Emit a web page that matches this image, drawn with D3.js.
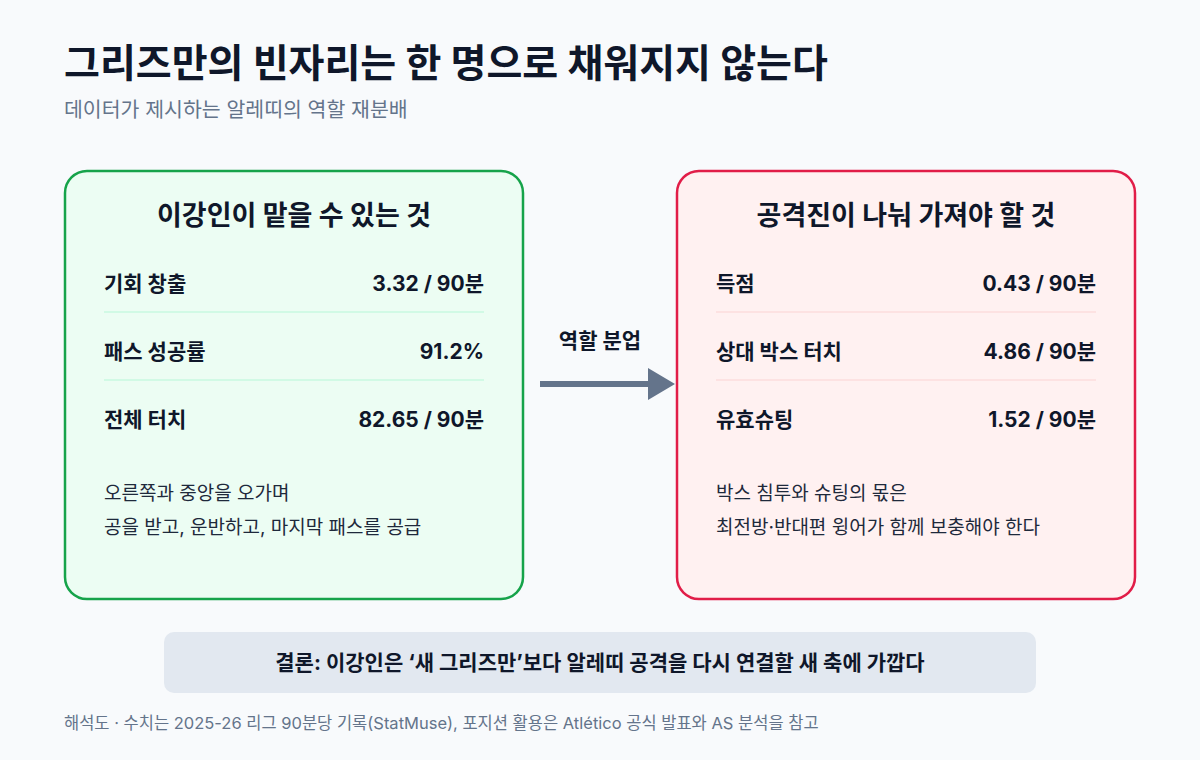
<!DOCTYPE html><html><head><meta charset="utf-8"><script src="https://cdn.jsdelivr.net/npm/d3@7"></script>
<style>body{margin:0;background:#f8fafc}svg{display:block;font-family:Inter,"Noto Sans CJK KR","Noto Sans",sans-serif}</style></head><body>
<script>
const title="그리즈만의 빈자리는 한 명으로 채워지지 않는다";
const subtitle="데이터가 제시하는 알레띠의 역할 재분배";
const panelTitles=["이강인이 맡을 수 있는 것","공격진이 나눠 가져야 할 것"];
const leftLabels=["기회 창출","패스 성공률","전체 터치"];
const leftValues=["3.32 / 90분","91.2%","82.65 / 90분"];
const rightLabels=["득점","상대 박스 터치","유효슈팅"];
const rightValues=["0.43 / 90분","4.86 / 90분","1.52 / 90분"];
const leftNotes=["오른쪽과 중앙을 오가며","공을 받고, 운반하고, 마지막 패스를 공급"];
const rightNotes=["박스 침투와 슈팅의 몫은","최전방·반대편 윙어가 함께 보충해야 한다"];
const arrowLabel="역할 분업";
const conclusion="결론: 이강인은 ‘새 그리즈만’보다 알레띠 공격을 다시 연결할 새 축에 가깝다";
const footer="해석도 · 수치는 2025-26 리그 90분당 기록(StatMuse), 포지션 활용은 Atlético 공식 발표와 AS 분석을 참고";

const svg=d3.select("body").append("svg").attr("width",1200).attr("height",760);
svg.append("rect").attr("width",1200).attr("height",760).attr("fill","#f8fafc");
svg.append("text").attr("x",64).attr("y",77).attr("font-size",39).attr("font-weight",700).attr("fill","#0f172a").text(title);
svg.append("text").attr("x",64).attr("y",117).attr("font-size",20.5).attr("fill","#64748b").text(subtitle);

const panels=[
 {x:64,stroke:"#16a34a",fill:"#ecfdf3",sep:"#d1fae5",labels:leftLabels,values:leftValues,notes:leftNotes,t:panelTitles[0]},
 {x:676,stroke:"#e11d48",fill:"#fff1f1",sep:"#fde2e2",labels:rightLabels,values:rightValues,notes:rightNotes,t:panelTitles[1]}];
const rowY=d3.scalePoint().domain([0,1,2]).range([284,420]);
panels.forEach(p=>{
 const g=svg.append("g").attr("transform",`translate(${p.x},170)`);
 g.append("rect").attr("x",1).attr("y",1).attr("width",458).attr("height",428).attr("rx",22).attr("fill",p.fill).attr("stroke",p.stroke).attr("stroke-width",2.5);
 g.append("text").attr("x",230).attr("y",55).attr("text-anchor","middle").attr("font-size",27).attr("font-weight",700).attr("fill","#0f172a").text(p.t);
 p.labels.forEach((l,i)=>{
  const y=rowY(i)-170;
  g.append("text").attr("x",40).attr("y",y+7).attr("font-size",21).attr("font-weight",700).attr("fill","#0f172a").text(l);
  g.append("text").attr("x",420).attr("y",y+7).attr("text-anchor","end").attr("font-size",21).attr("font-weight",700).attr("fill","#0f172a").text(p.values[i]);
  if(i<2) g.append("line").attr("x1",40).attr("x2",420).attr("y1",y+28).attr("y2",y+28).attr("stroke",p.sep).attr("stroke-width",2);
 });
 p.notes.forEach((n,i)=>g.append("text").attr("x",40).attr("y",330+i*34).attr("font-size",19).attr("fill","#1e293b").text(n));
});
svg.append("text").attr("x",600).attr("y",348).attr("text-anchor","middle").attr("font-size",21).attr("font-weight",700).attr("fill","#0f172a").text(arrowLabel);
svg.append("line").attr("x1",540).attr("x2",652).attr("y1",384).attr("y2",384).attr("stroke","#64748b").attr("stroke-width",6);
svg.append("path").attr("d","M648,368 L675,384 L648,400 Z").attr("fill","#64748b");
svg.append("rect").attr("x",164).attr("y",632).attr("width",872).attr("height",61).attr("rx",10).attr("fill","#e2e8f0");
svg.append("text").attr("x",600).attr("y",670).attr("text-anchor","middle").attr("font-size",21).attr("font-weight",700).attr("fill","#0f172a").text(conclusion);
svg.append("text").attr("x",64).attr("y",729).attr("font-size",16.5).attr("fill","#64748b").text(footer);
</script></body></html>
